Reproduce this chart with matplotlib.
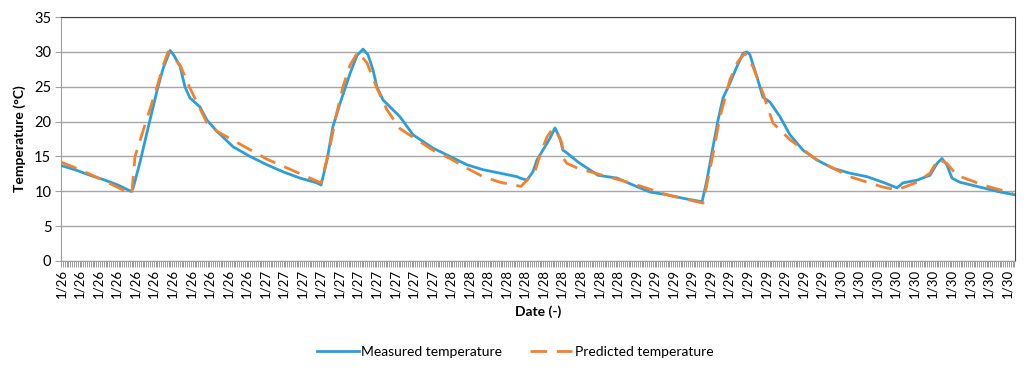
import matplotlib

matplotlib.use("Agg")
import matplotlib.pyplot as plt
import numpy as np

plt.rcParams["font.family"] = ["Lato", "DejaVu Sans"]

# sample index (10 samples per date label) and temperature (°C)
MEAS_X = [0, 7.5, 15.6, 23.7, 30.7, 36.1, 37.7, 38.8, 42.6, 46.4,
          49.1, 51.8, 55.0, 58.8, 60.9, 64.2, 66.8, 69.5, 74.9, 78.7,
          84.1, 92.7, 101.9, 111.1, 119.7, 128.8, 138.0, 140.2,
          143.4, 146.6, 150.4, 155.8, 159.6, 162.8, 165.5, 168.2, 170.3, 173.6,
          177.4, 182.7, 189.8, 200.5, 209.7, 218.9, 227.5, 236.7, 245.8, 247.4,
          251.2, 254.4, 256.6, 260.9, 263.6, 266.3, 269.0, 270.6, 272.8, 278.7,
          289.5, 299.7, 308.4, 317.5, 326.7, 335.3, 345.6,
          348.2, 351.5, 354.2, 356.9, 360.6, 364.4, 367.7, 369.8, 371.4, 375.2,
          378.4, 382.2, 387.6, 393.0, 400.0, 407.5, 416.2, 425.3, 434.5, 443.1,
          450.7, 453.9, 461.5, 468.5, 472.3, 474.9, 477.6, 480.3, 484.6, 497.0,
          506.2, 514.3]
MEAS_T = [13.7, 13.1, 12.3, 11.6, 10.9, 10.2, 10.0, 10.4, 14.2, 18.5,
          21.5, 24.5, 27.6, 30.2, 29.5, 27.9, 25.0, 23.4, 22.1, 20.2,
          18.6, 16.4, 15.0, 13.8, 12.8, 11.9, 11.2, 10.9,
          14.5, 19.3, 22.6, 26.9, 29.5, 30.4, 29.6, 27.4, 25.0, 23.1,
          22.1, 20.7, 18.1, 16.2, 15.0, 13.8, 13.1, 12.6, 12.1, 11.9,
          11.6, 12.8, 14.5, 16.4, 17.6, 19.1, 17.6, 15.9, 15.5, 14.2,
          12.3, 11.9, 10.9, 9.9, 9.5, 9.0, 8.5,
          11.6, 16.4, 20.2, 23.4, 25.5, 27.9, 29.8, 30.0, 29.6, 26.4,
          23.5, 22.8, 20.7, 18.1, 15.9, 14.5, 13.3, 12.6, 12.1, 11.3,
          10.5, 11.2, 11.6, 12.3, 14.0, 14.7, 13.8, 11.9, 11.3, 10.5,
          9.9, 9.5]

PRED_X = [0, 10.2, 21.0, 31.8, 38.1, 39.9, 45.8, 51.8, 55.0, 57.7,
          64.2, 69.5, 78.7, 84.1, 111.1, 140.2,
          145.0, 148.6, 152.0, 155.8, 160.1, 165.0, 170.3, 175.7, 182.7, 191.9,
          200.5, 209.7, 218.9, 227.5, 236.7, 248.0, 251.2, 255.5, 258.2, 262.0,
          265.2, 267.9, 270.1, 270.6, 272.8, 278.7, 285.2, 308.4, 326.7, 346.1,
          350.9, 355.3, 360.6, 364.9, 368.7, 373.0, 378.4, 383.8, 393.0, 407.5,
          425.3, 443.1, 450.7, 461.5, 468.5, 472.8, 477.6, 483.0, 497.0, 513.2]
PRED_T = [14.2, 13.1, 11.8, 10.4, 9.6, 15.0, 20.0, 25.0, 28.0, 30.0,
          28.1, 24.8, 19.8, 18.6, 14.6, 11.2,
          16.4, 21.2, 25.0, 28.1, 30.0, 28.4, 24.8, 21.7, 19.0, 17.4,
          15.9, 14.7, 13.3, 12.1, 11.3, 10.7, 11.6, 12.8, 15.2, 17.8,
          19.0, 18.1, 16.9, 14.8, 14.0, 13.3, 12.8, 11.1, 9.5, 8.3,
          14.5, 20.7, 26.0, 28.6, 29.8, 27.9, 24.1, 19.8, 17.4, 14.5,
          12.1, 10.6, 10.2, 11.3, 12.6, 14.6, 14.0, 12.3, 10.9, 9.7]

DATE_LABELS = ["1/26"] * 11 + ["1/27"] * 10 + ["1/28"] * 10 + ["1/29"] * 11 + ["1/30"] * 10
LABEL_STEP = 10

fig = plt.figure(figsize=(10.24, 3.71), dpi=100)
ax = fig.add_axes([0.0596, 0.2965, 0.9316, 0.6575])

ax.plot(MEAS_X, MEAS_T, color="#2a9fd8", lw=2.0, label="Measured temperature", zorder=3)
ax.plot(PRED_X, PRED_T, color="#f5812e", lw=2.0, dashes=(6, 3.5),
        label="Predicted temperature", zorder=4)

ax.set_xlim(0, 514.3)
ax.set_ylim(0, 35)
ax.set_yticks(range(0, 36, 5))
ax.yaxis.grid(True, color="#a6a6a6", lw=1)
ax.set_axisbelow(True)

ax.set_xticks(np.arange(len(DATE_LABELS)) * LABEL_STEP)
ax.set_xticklabels(DATE_LABELS, rotation=90, fontsize=9.5)
ax.set_xticks(np.arange(0, 515, 1), minor=True)
ax.tick_params(axis="x", which="both", length=4, width=0.6, color="#8c8c8c", pad=2)
ax.tick_params(axis="y", length=4, color="#a0a0a0", labelsize=10.5, pad=3)

for side in ("left", "bottom"):
    ax.spines[side].set_color("#a0a0a0")
for side in ("top", "right"):
    ax.spines[side].set_color("#404040")

ax.set_ylabel("Temperature (°C)", fontsize=10, fontweight="bold", labelpad=6)
ax.set_xlabel("Date (-)", fontsize=10, fontweight="bold", labelpad=5)

fig.legend(loc="center", bbox_to_anchor=(0.503, 0.052), ncol=2, frameon=False,
           fontsize=10, handlelength=3.0, columnspacing=2.0, handletextpad=0.2)

fig.savefig("out.png", dpi=100)
